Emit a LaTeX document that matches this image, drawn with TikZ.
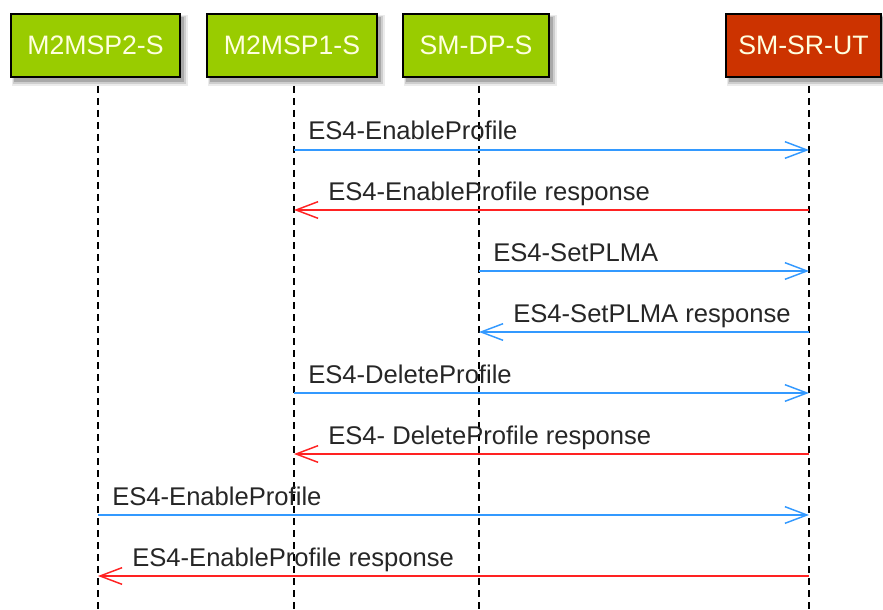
\documentclass[tikz,border=0pt]{standalone}
\usepackage{fontspec}
\setmainfont{Liberation Sans}
\usetikzlibrary{arrows.meta}
\definecolor{pgreen}{HTML}{99CC00}
\definecolor{pred}{HTML}{CC3300}
\definecolor{ptext}{HTML}{FFFFE0}
\definecolor{mblue}{HTML}{3399FF}
\definecolor{mred}{HTML}{FF2222}
\tikzset{
  part/.style={draw=black, line width=1.5pt, minimum height=47.25pt, inner sep=0pt,
    font=\fontsize{20}{22}\selectfont, text=ptext, anchor=north west},
  life/.style={black, line width=1.1pt, dash pattern=on 5.5pt off 3.5pt},
  msg/.style={line width=1.1pt, -{Straight Barb[length=16.5pt,width=12.5pt,line width=1.1pt]}},
  req/.style={msg, mblue},
  resp/.style={msg, mred},
  lbl/.style={anchor=base west, inner sep=0pt, font=\fontsize{19.2}{21}\selectfont, text=black!85}
}
\begin{document}
\begin{tikzpicture}[x=0.75pt,y=-0.75pt]
\useasboundingbox (0,0) rectangle (883,610);
% shadows
\foreach \x/\w in {10/169,206/170,402/146,725/155}{
  \fill[black,opacity=0.08] (\x+2,15) rectangle (\x+\w+9,86);
  \fill[black,opacity=0.12] (\x+3,16) rectangle (\x+\w+7,84);
  \fill[black,opacity=0.18] (\x+4,17) rectangle (\x+\w+5,82);
}
\node[part, fill=pgreen, minimum width=126.75pt] (b1) at (10,13) {M2MSP2-S};
\node[part, fill=pgreen, minimum width=127.5pt] (b2) at (206,13) {M2MSP1-S};
\node[part, fill=pgreen, minimum width=109.5pt] (b3) at (402,13) {SM-DP-S};
\node[part, fill=pred, minimum width=116.25pt] (b4) at (725,13) {SM-SR-UT};
% lifelines
\coordinate (t1) at (98,86); \coordinate (e1) at (98,610);
\coordinate (t2) at (294,86); \coordinate (e2) at (294,610);
\coordinate (t3) at (479,86); \coordinate (e3) at (479,610);
\coordinate (t4) at (809,86); \coordinate (e4) at (809,610);
\draw[life] (t1) -- (e1);
\draw[life] (t2) -- (e2);
\draw[life] (t3) -- (e3);
\draw[life] (t4) -- (e4);
% message levels
\coordinate (m1) at (0,150);
\coordinate (m2) at (0,210);
\coordinate (m3) at (0,271);
\coordinate (m4) at (0,332);
\coordinate (m5) at (0,393);
\coordinate (m6) at (0,454);
\coordinate (m7) at (0,515);
\coordinate (m8) at (0,576);
% messages
\draw[req] (t2 |- m1) -- (t4 |- m1);
\node[lbl] (l1) at (308,140) {ES4-EnableProfile};
\draw[resp] (t4 |- m2) -- (t2 |- m2);
\node[lbl] (l2) at (328,200) {ES4-EnableProfile response};
\draw[req] (t3 |- m3) -- (t4 |- m3);
\node[lbl] (l3) at (493,261) {ES4-SetPLMA};
\draw[req] (t4 |- m4) -- (t3 |- m4);
\node[lbl] (l4) at (513,322) {ES4-SetPLMA response};
\draw[req] (t2 |- m5) -- (t4 |- m5);
\node[lbl] (l5) at (308,383) {ES4-DeleteProfile};
\draw[resp] (t4 |- m6) -- (t2 |- m6);
\node[lbl] (l6) at (328,444) {ES4- DeleteProfile response};
\draw[req] (t1 |- m7) -- (t4 |- m7);
\node[lbl] (l7) at (112,505) {ES4-EnableProfile};
\draw[resp] (t4 |- m8) -- (t1 |- m8);
\node[lbl] (l8) at (132,566) {ES4-EnableProfile response};
\end{tikzpicture}
\end{document}
